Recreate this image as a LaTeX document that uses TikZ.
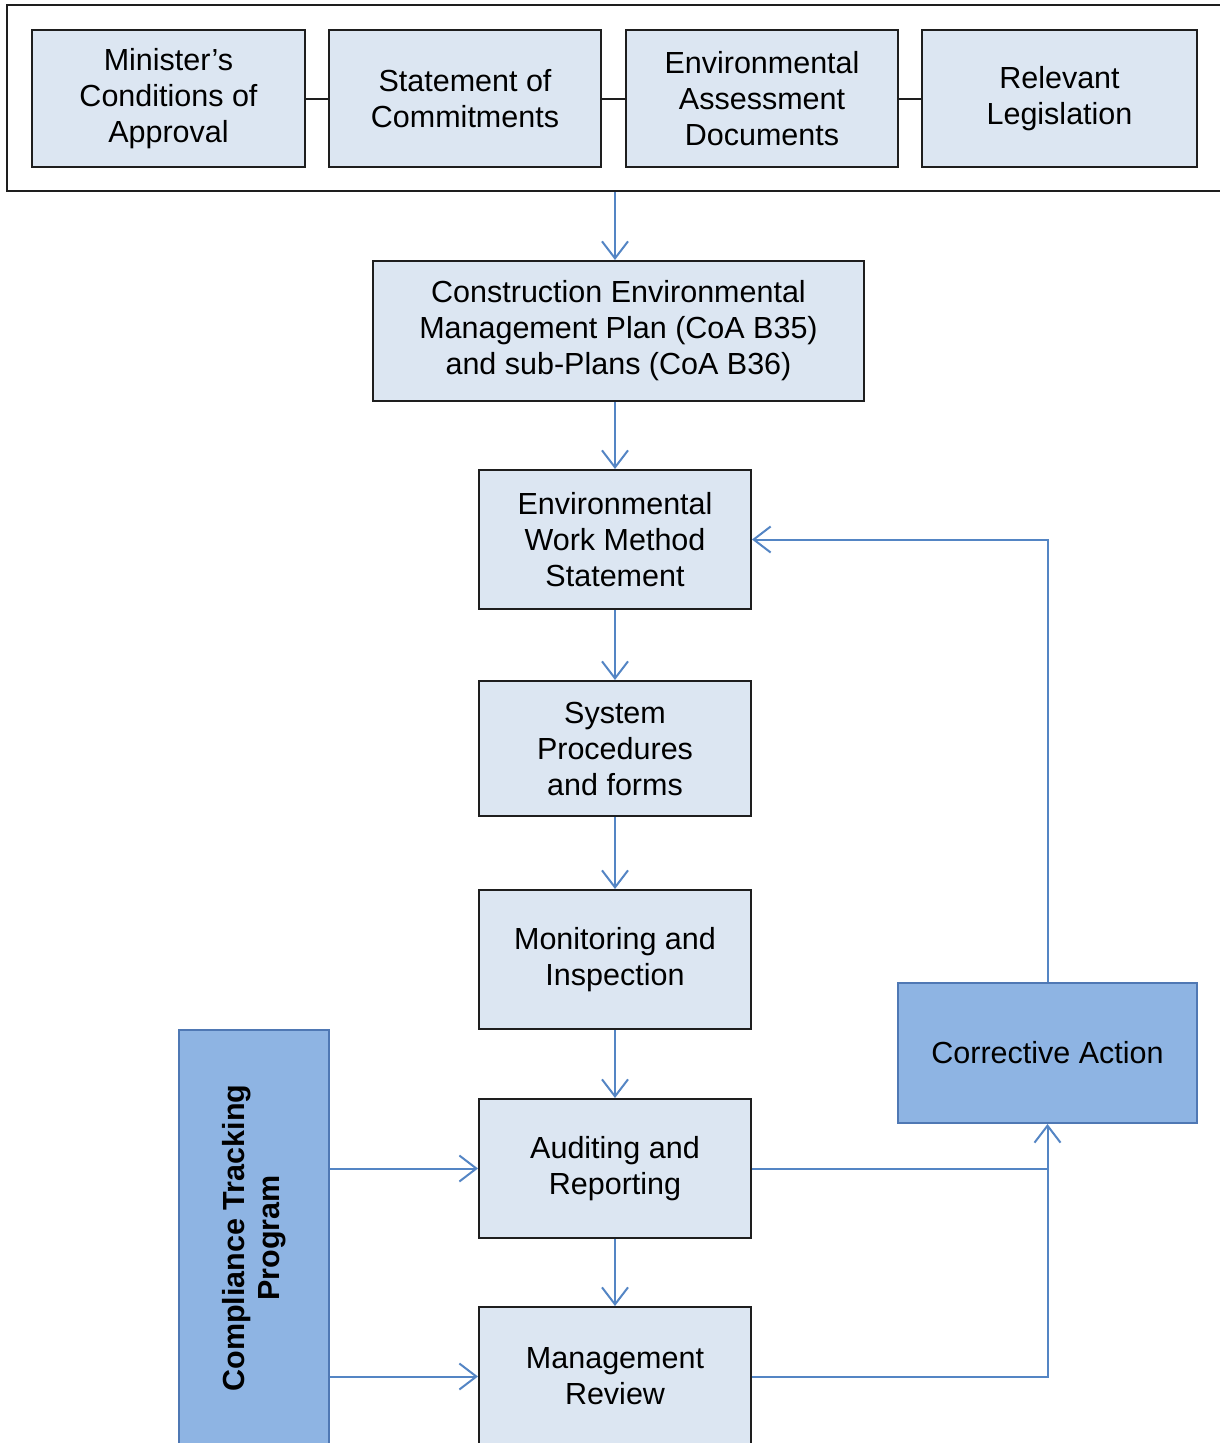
\documentclass[tikz,border=0pt]{standalone}
\usepackage{fontspec}
\setmainfont{Liberation Sans}
\usetikzlibrary{arrows.meta}
\definecolor{lightbox}{RGB}{220,230,242}
\definecolor{darkbox}{RGB}{142,180,227}
\definecolor{darkedge}{RGB}{79,120,180}
\definecolor{arrowc}{RGB}{84,133,196}
\definecolor{edgec}{RGB}{30,30,30}
\tikzset{
  lbox/.style={draw=edgec, line width=2pt, fill=lightbox, rectangle, inner sep=0pt, align=center,
    font=\fontsize{30.5}{36}\selectfont},
  dbox/.style={draw=darkedge, line width=2pt, fill=darkbox, rectangle, inner sep=0pt, align=center,
    font=\fontsize{30.5}{36}\selectfont},
  arr/.style={draw=arrowc, line width=2pt, -{Straight Barb[length=17pt,width=26pt,line width=2pt]}},
  ln/.style={draw=arrowc, line width=2pt},
  blk/.style={draw=edgec, line width=2pt}
}
\begin{document}
\begin{tikzpicture}[x=1pt,y=-1pt]
\useasboundingbox (0,0) rectangle (1220,1443);
\clip (0,0) rectangle (1220,1443);
\node[draw=edgec, line width=2pt, rectangle, minimum width=1218pt, minimum height=186pt, inner sep=0pt] (outer) at (616,98) {};
\node[lbox, minimum width=273pt, minimum height=137pt] (b1) at (168.5,98.5) {Minister's\\Conditions of\\Approval};
\node[lbox, minimum width=272pt, minimum height=137pt] (b2) at (465,98.5) {Statement of\\Commitments};
\node[lbox, minimum width=272pt, minimum height=137pt] (b3) at (762,98.5) {Environmental\\Assessment\\Documents};
\node[lbox, minimum width=275pt, minimum height=137pt] (b4) at (1059.5,98.5) {Relevant\\Legislation};
\draw[blk] (b1.east) -- (b2.west);
\draw[blk] (b2.east) -- (b3.west);
\draw[blk] (b3.east) -- (b4.west);

\node[lbox, minimum width=491pt, minimum height=140pt] (cemp) at (618.5,331) {Construction Environmental\\Management Plan (CoA B35)\\and sub-Plans (CoA B36)};
\node[lbox, minimum width=272pt, minimum height=139pt] (ewms) at (615,539.5) {Environmental\\Work Method\\Statement};
\node[lbox, minimum width=272pt, minimum height=135pt] (sys) at (615,748.5) {System\\Procedures\\and forms};
\node[lbox, minimum width=272pt, minimum height=139pt] (mon) at (615,959.5) {Monitoring and\\Inspection};
\node[lbox, minimum width=272pt, minimum height=139pt] (aud) at (615,1168.5) {Auditing and\\Reporting};
\node[lbox, minimum width=272pt, minimum height=139pt] (mgmt) at (615,1376.5) {Management\\Review};
\node[dbox, minimum width=299pt, minimum height=140pt] (corr) at (1047.5,1053) {Corrective Action};
\node[dbox, minimum width=150pt, minimum height=416pt] (ctp) at (254,1238) {};
\node[rotate=90, align=center, font=\bfseries\fontsize{30.5}{35}\selectfont] (ctptext) at (ctp.center) {Compliance Tracking\\Program};

\draw[arr] (outer.south -| ewms.north) -- (cemp.north -| ewms.north);
\draw[arr] (cemp.south -| ewms.north) -- (ewms.north);
\draw[arr] (ewms.south) -- (sys.north);
\draw[arr] (sys.south) -- (mon.north);
\draw[arr] (mon.south) -- (aud.north);
\draw[arr] (aud.south) -- (mgmt.north);
\draw[arr] (corr.north) |- (ewms.east);
\draw[ln] (aud.east) -- (aud.east -| corr.south);
\draw[arr] (mgmt.east) -| (corr.south);
\draw[arr] (aud.west -| ctp.east) -- (aud.west);
\draw[arr] (mgmt.west -| ctp.east) -- (mgmt.west);
\end{tikzpicture}
\end{document}
